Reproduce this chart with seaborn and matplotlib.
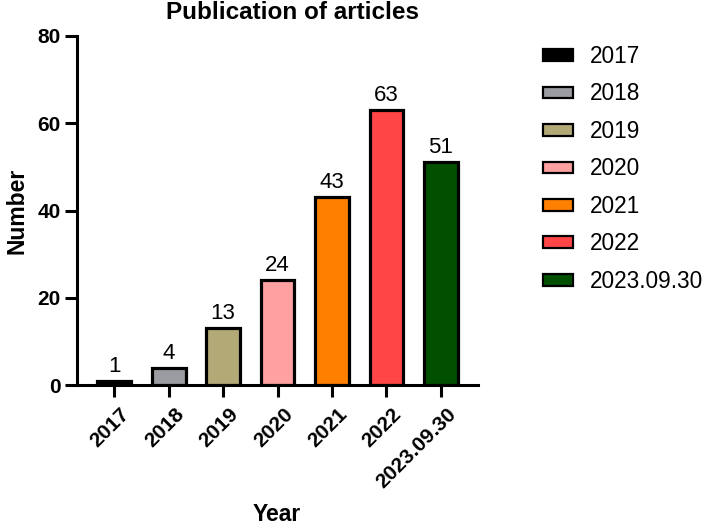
import matplotlib.pyplot as plt
import matplotlib.patches as mpatches
import matplotlib.transforms as mtransforms
import pandas as pd
import seaborn as sns

# данные
years = ["2017", "2018", "2019", "2020", "2021", "2022", "2023.09.30"]
counts = [1, 4, 13, 24, 43, 63, 51]
colors = ["#000000", "#9b9ba2", "#b3a977", "#ffa1a1", "#ff8000", "#ff4545", "#005000"]

df = pd.DataFrame({"Year": years, "Number": counts})

sns.set_theme(style="ticks")
plt.rcParams['font.family'] = ['Liberation Sans', 'DejaVu Sans']
plt.rcParams.update({"text.color": "black", "axes.labelcolor": "black",
                     "xtick.color": "black", "ytick.color": "black",
                     "axes.edgecolor": "black"})

fig = plt.figure(figsize=(7.08, 5.27), dpi=100)
ax = fig.add_axes([0.109, 0.269, 0.566, 0.663])

sns.barplot(data=df, x="Year", y="Number", hue="Year", palette=colors, saturation=1,
            width=0.62, edgecolor="black", linewidth=2.3, legend=False, ax=ax)

for cont in ax.containers:
    ax.bar_label(cont, fontsize=16, padding=3, color="black")

ax.set_xlim(-0.68, 6.68)
ax.set_ylim(0, 80)
ax.set_yticks([0, 20, 40, 60, 80])

for s in ["top", "right"]:
    ax.spines[s].set_visible(False)
for s in ["left", "bottom"]:
    ax.spines[s].set_linewidth(2.2)
ax.tick_params(axis="both", width=2.2, length=8.5)
ax.tick_params(axis="y", labelsize=15)
ax.tick_params(axis="x", labelsize=15)
shift = mtransforms.ScaledTranslation(4 / 72, -2 / 72, fig.dpi_scale_trans)
for lab in ax.get_yticklabels():
    lab.set_fontweight("bold")
for lab in ax.get_xticklabels():
    lab.set_fontweight("bold")
    lab.set_rotation(45)
    lab.set_ha("right")
    lab.set_rotation_mode("anchor")
    lab.set_transform(lab.get_transform() + shift)

# подписи осей
ax.set_xlabel("")
ax.set_ylabel("Number", fontsize=16.5, fontweight="bold", labelpad=6)
fig.text(277 / 708, 1 - 521 / 527, "Year", fontsize=16.5, fontweight="bold",
         ha="center", va="baseline")
fig.text(293 / 708, 1 - 19 / 527, "Publication of articles", fontsize=17.5,
         fontweight="bold", ha="center", va="baseline")

handles = [mpatches.Patch(facecolor=c, edgecolor="black", linewidth=1.6) for c in colors]
fig.legend(handles, years, loc="upper left", bbox_to_anchor=(543 / 708, 1 - 45 / 527),
           frameon=False, fontsize=16.3, borderpad=0, borderaxespad=0,
           handlelength=1.33, handleheight=0.42, handletextpad=0.75, labelspacing=0.64)

fig.savefig("out.png", dpi=100)
